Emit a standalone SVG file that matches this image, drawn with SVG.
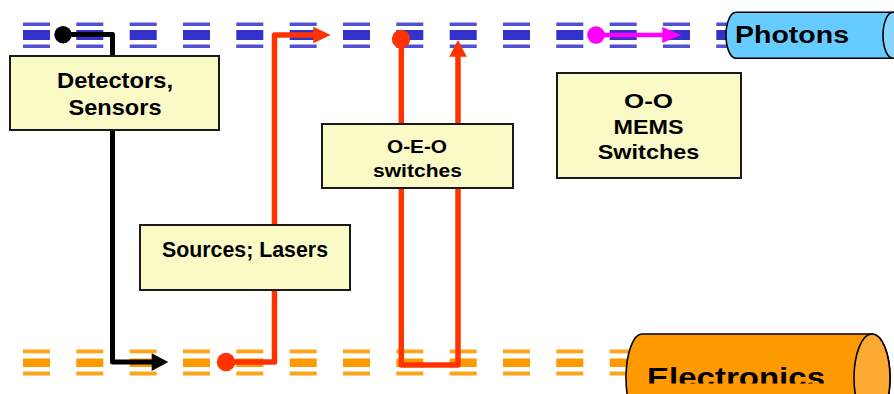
<svg xmlns="http://www.w3.org/2000/svg" width="894" height="394" viewBox="0 0 894 394">
  <defs>
    <style>
      .box { fill: #FAFAC6; stroke: #1a1a1a; stroke-width: 2; }
      .lbl { font-family: "Liberation Sans", Arial, sans-serif; font-weight: bold; fill: #000; }
      .blk { fill: none; stroke: #000; stroke-width: 5; stroke-linejoin: round; }
      .red { fill: none; stroke: #FF3300; stroke-width: 5.5; stroke-linejoin: round; }
      .mag { fill: none; stroke: #FF00FF; stroke-width: 4.5; }
      .cyl { stroke: #000; stroke-width: 1.6; }
    </style>
    <g id="bd">
      <rect x="0" y="22.5" width="27" height="3.5" fill="#3333CC" opacity="0.85"/>
      <rect x="0" y="30" width="27" height="10" fill="#3333CC"/>
      <rect x="0" y="44.5" width="27" height="3.5" fill="#3333CC" opacity="0.85"/>
    </g>
    <g id="od">
      <rect x="0" y="349.5" width="27" height="3.8" fill="#FF9900" opacity="0.9"/>
      <rect x="0" y="358.5" width="27" height="8.5" fill="#FF9900"/>
      <rect x="0" y="371.5" width="27" height="4" fill="#FF9900" opacity="0.9"/>
    </g>
    <clipPath id="eclip"><rect x="600" y="330" width="294" height="53.5"/></clipPath>
  </defs>

  <g id="photon-track">
    <use href="#bd" x="23"/>
    <use href="#bd" x="76.3"/>
    <use href="#bd" x="129.7"/>
    <use href="#bd" x="183"/>
    <use href="#bd" x="236.3"/>
    <use href="#bd" x="289.7"/>
    <use href="#bd" x="343"/>
    <use href="#bd" x="396.3"/>
    <use href="#bd" x="449.7"/>
    <use href="#bd" x="503"/>
    <use href="#bd" x="556.3"/>
    <use href="#bd" x="609.7"/>
    <use href="#bd" x="663"/>
    <use href="#bd" x="716.3"/>
  </g>
  <g id="electron-track">
    <use href="#od" x="23"/>
    <use href="#od" x="76.3"/>
    <use href="#od" x="129.7"/>
    <use href="#od" x="183"/>
    <use href="#od" x="236.3"/>
    <use href="#od" x="289.7"/>
    <use href="#od" x="343"/>
    <use href="#od" x="396.3"/>
    <use href="#od" x="449.7"/>
    <use href="#od" x="503"/>
    <use href="#od" x="556.3"/>
    <use href="#od" x="609.7"/>
  </g>

  <g id="connectors">
    <path class="blk" d="M63,34.5 H112.5 V362 H153"/>
    <circle cx="63" cy="34.7" r="8.7" fill="#000"/>
    <polygon points="151.7,353.3 168.3,362 151.7,371" fill="#000"/>

    <path class="red" d="M226,362 H274.5 V35 H314"/>
    <circle cx="226" cy="362" r="9.2" fill="#FF3300"/>
    <polygon points="313.3,26.7 330.7,35 313.3,43.3" fill="#FF3300"/>

    <path class="red" d="M401.3,39 V365 H458 V55"/>
    <circle cx="401" cy="39" r="9.2" fill="#FF3300"/>
    <polygon points="449.2,56.7 458,40 466.8,56.7" fill="#FF3300"/>

    <path class="mag" d="M596,35 H663"/>
    <circle cx="596" cy="35" r="8.8" fill="#FF00FF"/>
    <polygon points="662.3,27 681.3,35 662.3,43" fill="#FF00FF"/>
  </g>

  <g id="detectors">
    <rect class="box" x="10" y="56" width="209" height="74"/>
    <text class="lbl" x="115" y="88" font-size="22" text-anchor="middle" textLength="116" lengthAdjust="spacingAndGlyphs">Detectors,</text>
    <text class="lbl" x="115" y="115" font-size="22" text-anchor="middle" textLength="93" lengthAdjust="spacingAndGlyphs">Sensors</text>
  </g>
  <g id="sources">
    <rect class="box" x="140" y="225" width="210" height="65"/>
    <text class="lbl" x="245" y="257" font-size="21.5" text-anchor="middle" textLength="166" lengthAdjust="spacingAndGlyphs">Sources; Lasers</text>
  </g>
  <g id="oeo">
    <rect class="box" x="322" y="124" width="191" height="64"/>
    <text class="lbl" x="417" y="153" font-size="18" text-anchor="middle" textLength="60" lengthAdjust="spacingAndGlyphs">O-E-O</text>
    <text class="lbl" x="417.5" y="177" font-size="18" text-anchor="middle" textLength="89" lengthAdjust="spacingAndGlyphs">switches</text>
  </g>
  <g id="mems">
    <rect class="box" x="557" y="73" width="184" height="105"/>
    <text class="lbl" x="648.5" y="108" font-size="21" text-anchor="middle" textLength="49" lengthAdjust="spacingAndGlyphs">O-O</text>
    <text class="lbl" x="648.5" y="133.5" font-size="21" text-anchor="middle" textLength="70" lengthAdjust="spacingAndGlyphs">MEMS</text>
    <text class="lbl" x="648.5" y="159" font-size="21" text-anchor="middle" textLength="101.5" lengthAdjust="spacingAndGlyphs">Switches</text>
  </g>

  <g id="photons">
    <path class="cyl" fill="#66CCFF" d="M736,12.3 H893 A10,23 0 0 1 893,58.3 H736 A10,23 0 0 1 736,12.3 Z"/>
    <ellipse class="cyl" cx="893" cy="35.3" rx="10" ry="23" fill="#85D6FF"/>
    <text class="lbl" x="735" y="42.5" font-size="24" textLength="114" lengthAdjust="spacingAndGlyphs">Photons</text>
  </g>
  <g id="electronics">
    <path class="cyl" fill="#FF9900" d="M642,334 H872 A18,44 0 0 1 872,422 H642 A16,44 0 0 1 642,334 Z"/>
    <ellipse class="cyl" cx="872" cy="378" rx="18" ry="44" fill="#FFAA33"/>
    <text class="lbl" x="647" y="387" font-size="28" textLength="178" lengthAdjust="spacingAndGlyphs" clip-path="url(#eclip)">Electronics</text>
  </g>
</svg>
